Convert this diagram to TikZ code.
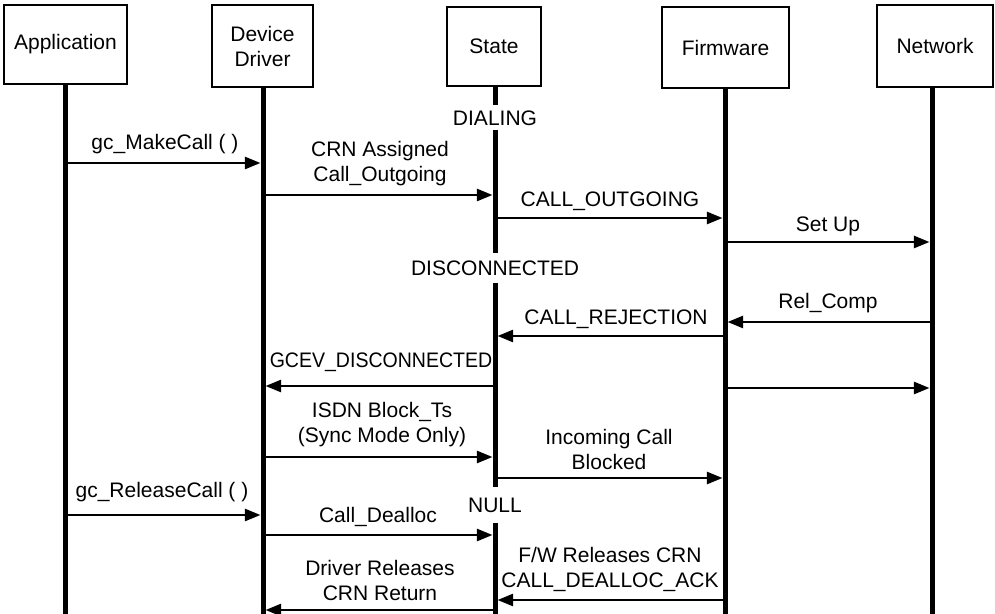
\documentclass[tikz,border=0pt]{standalone}
\usepackage{fontspec}
\setmainfont{Liberation Sans}
\usetikzlibrary{arrows.meta}
\begin{document}
\begin{tikzpicture}[x=0.5pt,y=-0.5pt,
  txt/.style={font=\fontsize{10.5}{12.5}\selectfont,align=center},
  actor/.style={txt,draw,line width=1.2pt,inner sep=0pt},
  lifeline/.style={line width=2.5pt},
  msg/.style={line width=1.3pt,-{Triangle[length=7.8pt,width=6pt]},shorten >=1.25pt},
  lbl/.style={txt,inner sep=0pt},
  statelbl/.style={txt,fill=white,inner xsep=1pt,inner ysep=0pt}
]
\useasboundingbox (0,0) rectangle (995,614);

% participants
\node[actor,minimum width=61.5pt,minimum height=39.5pt] (app) at (65.5,44.5) {Application};
\node[actor,minimum width=50.5pt,minimum height=41pt] (dd) at (262.5,46) {Device\\Driver};
\node[actor,minimum width=47pt,minimum height=39.5pt] (st) at (494,46.5) {State};
\node[actor,minimum width=63.5pt,minimum height=40.5pt] (fw) at (725.5,47.5) {Firmware};
\node[actor,minimum width=58pt,minimum height=41pt] (net) at (935,46) {Network};

% lifeline feet
\coordinate (appB) at (65,614);
\coordinate (ddB) at (263,614);
\coordinate (stB) at (495,614);
\coordinate (fwB) at (725,614);
\coordinate (netB) at (932,614);

\draw[lifeline] (appB |- app.south) -- (appB);
\draw[lifeline] (ddB |- dd.south) -- (ddB);
\draw[lifeline] (stB |- st.south) -- (stB);
\draw[lifeline] (fwB |- fw.south) -- (fwB);
\draw[lifeline] (netB |- net.south) -- (netB);

% call states on the State lifeline
\node[statelbl,minimum height=12.5pt] (dialing) at (495,118) {DIALING};
\node[statelbl,minimum height=15pt] (disc) at (495,268) {DISCONNECTED};
\node[statelbl,minimum height=18pt] (null) at (495,505) {NULL};

% messages
\draw[msg] (appB |- 0,163) -- (ddB |- 0,163);
\node[lbl] (m1) at (165,144) {gc\_MakeCall ( )};

\draw[msg] (ddB |- 0,195) -- (stB |- 0,195);
\node[lbl] (m2) at (380,163.5) {CRN Assigned\\Call\_Outgoing};

\draw[msg] (stB |- 0,218) -- (fwB |- 0,218);
\node[lbl] (m3) at (610,201) {CALL\_OUTGOING};

\draw[msg] (fwB |- 0,242) -- (netB |- 0,242);
\node[lbl] (m4) at (828,226) {Set Up};

\draw[msg] (netB |- 0,322) -- (fwB |- 0,322);
\node[lbl] (m5) at (828,303) {Rel\_Comp};

\draw[msg] (fwB |- 0,336) -- (stB |- 0,336);
\node[lbl] (m6) at (616,319) {CALL\_REJECTION};

\draw[msg] (stB |- 0,386) -- (ddB |- 0,386);
\node[lbl,xscale=0.93] (m7) at (381,362) {GCEV\_DISCONNECTED};

\draw[msg] (fwB |- 0,388) -- (netB |- 0,388);

\draw[msg] (ddB |- 0,457) -- (stB |- 0,457);
\node[lbl] (m9) at (382,424.5) {ISDN Block\_Ts\\(Sync Mode Only)};

\draw[msg] (stB |- 0,478) -- (fwB |- 0,478);
\node[lbl] (m10) at (609,449.5) {Incoming Call\\Blocked};

\draw[msg] (appB |- 0,515) -- (ddB |- 0,515);
\node[lbl] (m11) at (162,492) {gc\_ReleaseCall ( )};

\draw[msg] (ddB |- 0,535) -- (stB |- 0,535);
\node[lbl] (m12) at (378,517) {Call\_Dealloc};

\draw[msg] (fwB |- 0,600) -- (stB |- 0,600);
\node[lbl] (m13) at (610,569.5) {F/W Releases CRN\\CALL\_DEALLOC\_ACK};

\draw[msg] (stB |- 0,610) -- (ddB |- 0,610);
\node[lbl] (m14) at (380,580.5) {Driver Releases\\CRN Return};
\end{tikzpicture}
\end{document}
